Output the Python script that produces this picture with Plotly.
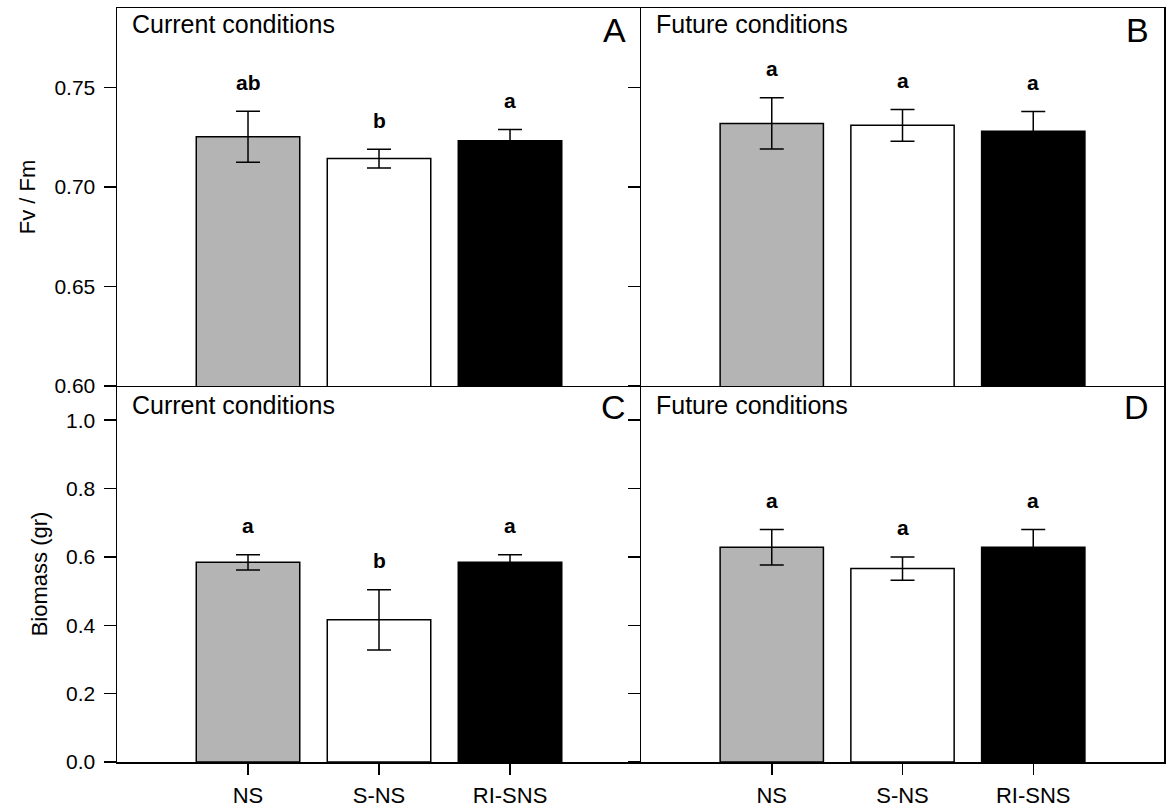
import plotly.graph_objects as go

categories = ["NS", "S-NS", "RI-SNS"]
bar_colors = ["#b4b4b4", "#ffffff", "#000000"]

# Fv/Fm
fvfm_current = [0.7253, 0.7143, 0.7233]
fvfm_current_err = [0.0128, 0.0047, 0.0056]
fvfm_current_letters = ["ab", "b", "a"]
fvfm_future = [0.7320, 0.7310, 0.7281]
fvfm_future_err = [0.0129, 0.0080, 0.0099]
fvfm_future_letters = ["a", "a", "a"]

# Biomass
bio_current = [0.584, 0.416, 0.584]
bio_current_err = [0.022, 0.088, 0.022]
bio_current_letters = ["a", "b", "a"]
bio_future = [0.628, 0.566, 0.628]
bio_future_err = [0.052, 0.034, 0.052]
bio_future_letters = ["a", "a", "a"]

fvfm_ticks = [0.60, 0.65, 0.70, 0.75]
bio_ticks = [0.0, 0.2, 0.4, 0.6, 0.8, 1.0]

FONT = "Arial, Liberation Sans, sans-serif"

fig = go.Figure()

panels = [
    (fvfm_current, fvfm_current_err, fvfm_current_letters, "x", "y"),
    (fvfm_future, fvfm_future_err, fvfm_future_letters, "x2", "y2"),
    (bio_current, bio_current_err, bio_current_letters, "x3", "y3"),
    (bio_future, bio_future_err, bio_future_letters, "x4", "y4"),
]

annotations = []
for vals, errs, letters, xa, ya in panels:
    fig.add_trace(go.Bar(
        x=categories, y=vals, xaxis=xa, yaxis=ya,
        width=0.79,
        marker=dict(color=bar_colors, line=dict(color="black", width=1.5)),
        error_y=dict(type="data", array=errs, visible=True,
                     color="black", thickness=1.5, width=12),
        showlegend=False,
        hoverinfo="skip",
    ))
    for c, v, e, l in zip(categories, vals, errs, letters):
        annotations.append(dict(
            x=c, y=v + e, xref=xa, yref=ya, text=l, showarrow=False,
            yshift=29, yanchor="middle", xanchor="center",
            font=dict(family=FONT, size=21, color="black", weight="bold"),
        ))

def panel_text(xa, ya, title, letter, ty, ly):
    xr = xa + " domain"
    yr = ya + " domain"
    annotations.append(dict(
        x=0.024, y=ty, xref=xr, yref=yr, text=title, showarrow=False,
        xanchor="left", yanchor="middle",
        font=dict(family=FONT, size=25, color="black"),
    ))
    annotations.append(dict(
        x=0.975, y=ly, xref=xr, yref=yr, text=letter, showarrow=False,
        xanchor="right", yanchor="middle",
        font=dict(family=FONT, size=34, color="black"),
    ))

panel_text("x", "y", "Current conditions", "A", 0.958, 0.942)
panel_text("x2", "y2", "Future conditions", "B", 0.958, 0.942)
panel_text("x3", "y3", "Current conditions", "C", 0.950, 0.945)
panel_text("x4", "y4", "Future conditions", "D", 0.950, 0.945)

xsplit = 0.5005
ysplit = 0.4987

axis_common = dict(showline=True, linecolor="black", linewidth=1.5,
                   showgrid=False, zeroline=False, automargin=False,
                   fixedrange=True)

tickfont = dict(family=FONT, size=21, color="black")
xtickfont = dict(family=FONT, size=22, color="black")
titlefont = dict(family=FONT, size=22, color="black")

fig.update_layout(
    width=1168, height=809,
    margin=dict(l=117, r=4, t=8, b=47),
    plot_bgcolor="white", paper_bgcolor="white",
    annotations=annotations,
    hovermode=False,
    xaxis=dict(domain=[0, xsplit], anchor="y", range=[-1, 3],
               showticklabels=False, ticks="", mirror=True, **axis_common),
    xaxis2=dict(domain=[xsplit, 1], anchor="y2", range=[-1, 3],
                showticklabels=False, ticks="", mirror=True, **axis_common),
    xaxis3=dict(domain=[0, xsplit], anchor="y3", range=[-1, 3],
                ticks="outside", ticklen=11, tickwidth=1.5, tickcolor="black",
                tickfont=xtickfont, ticklabelstandoff=2, **axis_common),
    xaxis4=dict(domain=[xsplit, 1], anchor="y4", range=[-1, 3],
                ticks="outside", ticklen=11, tickwidth=1.5, tickcolor="black",
                tickfont=xtickfont, ticklabelstandoff=2, **axis_common),
    yaxis=dict(domain=[ysplit, 1], anchor="x", range=[0.60, 0.79],
               tickvals=fvfm_ticks, ticktext=[f"{t:.2f}" for t in fvfm_ticks],
               ticks="outside", ticklen=12, tickwidth=1.5, tickcolor="black",
               tickfont=tickfont, ticklabelstandoff=4,
               title=dict(text="Fv / Fm", font=titlefont, standoff=12),
               **axis_common),
    yaxis2=dict(domain=[ysplit, 1], anchor="x2", range=[0.60, 0.79],
                tickvals=fvfm_ticks, showticklabels=False,
                ticks="outside", ticklen=12, tickwidth=1.5, tickcolor="black",
                mirror=True, **axis_common),
    yaxis3=dict(domain=[0, ysplit], anchor="x3", range=[0, 1.1],
                tickvals=bio_ticks, ticktext=[f"{t:.1f}" for t in bio_ticks],
                ticks="outside", ticklen=12, tickwidth=1.5, tickcolor="black",
                tickfont=tickfont, ticklabelstandoff=4,
                title=dict(text="Biomass (gr)", font=titlefont, standoff=12),
                **axis_common),
    yaxis4=dict(domain=[0, ysplit], anchor="x4", range=[0, 1.1],
                tickvals=bio_ticks, showticklabels=False,
                ticks="outside", ticklen=12, tickwidth=1.5, tickcolor="black",
                mirror=True, **axis_common),
)

fig.write_html(
    "out.html",
    config={"displayModeBar": False, "staticPlot": True},
    post_script="document.body.style.margin='0px';document.body.style.overflow='hidden';",
)
